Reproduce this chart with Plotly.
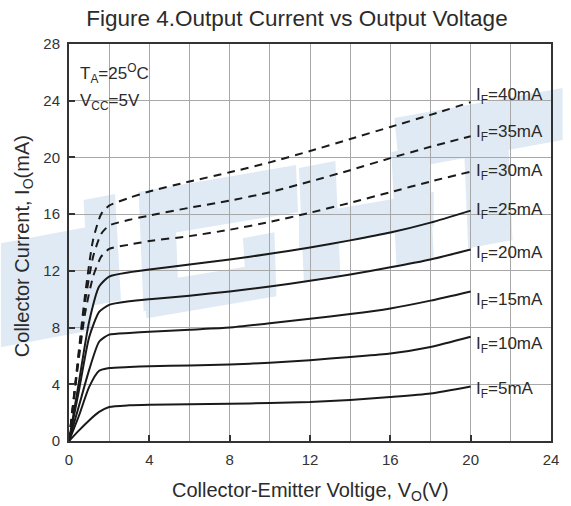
import plotly.graph_objects as go

# ---------------- data ----------------
v_solid = [0, 0.5, 1, 1.5, 2, 3, 4, 6, 8, 10, 12, 14, 16, 18, 20]
i_f5 = [0, 0.75, 1.45, 2.05, 2.4, 2.52, 2.56, 2.6, 2.63, 2.68, 2.75, 2.9, 3.1, 3.35, 3.85]
i_f10 = [0, 1.8, 3.8, 4.95, 5.15, 5.22, 5.27, 5.33, 5.4, 5.52, 5.7, 5.93, 6.17, 6.63, 7.35]
i_f15 = [0, 2.5, 5.0, 7.0, 7.5, 7.62, 7.7, 7.85, 8.0, 8.3, 8.62, 8.95, 9.35, 9.9, 10.55]
i_f20 = [0, 3.6, 7.3, 9.1, 9.6, 9.85, 10.0, 10.25, 10.55, 10.9, 11.3, 11.75, 12.25, 12.8, 13.5]
i_f25 = [0, 4.2, 8.4, 10.9, 11.6, 11.9, 12.1, 12.45, 12.8, 13.2, 13.65, 14.15, 14.7, 15.4, 16.25]

v_dash = [0, 0.4, 0.8, 1.2, 1.6, 2, 3, 4, 6, 8, 10, 12, 14, 16, 18, 20]
i_f30 = [0, 4.8, 9.0, 11.6, 13.0, 13.55, 13.85, 14.1, 14.45, 14.9, 15.45, 16.1, 16.8, 17.55, 18.3, 19.0]
i_f35 = [0, 5.0, 9.8, 13.0, 14.6, 15.2, 15.6, 15.9, 16.45, 16.95, 17.55, 18.3, 19.1, 19.95, 20.75, 21.5]
i_f40 = [0, 5.2, 10.3, 14.2, 16.0, 16.6, 17.15, 17.6, 18.3, 18.95, 19.65, 20.45, 21.3, 22.15, 23.0, 23.9]

series_labels = ["I<sub>F</sub>=5mA", "I<sub>F</sub>=10mA", "I<sub>F</sub>=15mA", "I<sub>F</sub>=20mA",
                 "I<sub>F</sub>=25mA", "I<sub>F</sub>=30mA", "I<sub>F</sub>=35mA", "I<sub>F</sub>=40mA"]
label_y = [3.6, 6.8, 9.9, 13.2, 16.2, 19.0, 21.7, 24.3]

x_ticks = [0, 4, 8, 12, 16, 20, 24]
y_ticks = [0, 4, 8, 12, 16, 20, 24, 28]

# ---------------- figure ----------------
LINE = "#1a1a1a"
TXT = "#2b2b2b"
FONT = "Liberation Sans, Arial, sans-serif"

fig = go.Figure()
for ys in [i_f5, i_f10, i_f15, i_f20, i_f25]:
    fig.add_trace(go.Scatter(x=v_solid, y=ys, mode="lines",
                             line=dict(color=LINE, width=2, shape="spline", smoothing=0.6),
                             showlegend=False, hoverinfo="skip"))
for ys in [i_f30, i_f35, i_f40]:
    fig.add_trace(go.Scatter(x=v_dash, y=ys, mode="lines",
                             line=dict(color=LINE, width=2, dash="8px,6px", shape="spline", smoothing=0.6),
                             showlegend=False, hoverinfo="skip"))

# curve labels
for txt, yy in zip(series_labels, label_y):
    fig.add_annotation(x=20.15, y=yy, xref="x", yref="y", text=txt, showarrow=False,
                       xanchor="left", yanchor="middle",
                       font=dict(family=FONT, size=17, color=TXT))

# conditions
fig.add_annotation(x=0.45, y=25.9, xref="x", yref="y", text="T<sub>A</sub>=25<sup>O</sup>C",
                   showarrow=False, xanchor="left", yanchor="middle",
                   font=dict(family=FONT, size=17, color=TXT))
fig.add_annotation(x=0.45, y=23.9, xref="x", yref="y", text="V<sub>CC</sub>=5V",
                   showarrow=False, xanchor="left", yanchor="middle",
                   font=dict(family=FONT, size=17, color=TXT))

# axis titles
fig.add_annotation(x=0.5, y=-0.128, xref="paper", yref="paper",
                   text="Collector-Emitter Voltige, V<sub>O</sub>(V)", showarrow=False,
                   xanchor="center", yanchor="middle",
                   font=dict(family=FONT, size=20, color=TXT))
fig.add_annotation(x=-0.094, y=0.49, xref="paper", yref="paper",
                   text="Collector Current, I<sub>O</sub>(mA)", showarrow=False, textangle=-90,
                   xanchor="center", yanchor="middle",
                   font=dict(family=FONT, size=20, color=TXT))

# watermark (light blue slanted letter blocks), pixel coords -> paper
L0, T0, PW, PH = 69.2, 44.0, 490.0, 396.7
def px(pts):
    s = ""
    for k, (a, b) in enumerate(pts):
        xp = (a - L0) / PW
        yp = (T0 + PH - b) / PH
        s += ("M" if k == 0 else "L") + f"{xp:.4f},{yp:.4f} "
    return s + "Z"

wm = [
    [(0, 243), (92, 226), (92, 330), (0, 347)],
    [(84, 200), (116, 194), (122, 300), (90, 306)],
    [(140, 192), (300, 165), (302, 212), (143, 238)],
    [(140, 192), (176, 186), (181, 305), (145, 311)],
    [(145, 283), (278, 262), (280, 296), (148, 318)],
    [(246, 238), (278, 232), (280, 292), (250, 297)],
    [(303, 168), (340, 161), (345, 275), (308, 282)],
    [(303, 215), (440, 192), (440, 226), (303, 250)],
    [(397, 152), (435, 145), (440, 258), (402, 265)],
    [(400, 118), (571, 88), (571, 140), (405, 170)],
    [(470, 130), (515, 122), (520, 240), (475, 248)],
]
for poly in wm:
    fig.add_shape(type="path", path=px(poly), xref="paper", yref="paper",
                  fillcolor="#dfeaf5", line=dict(width=0), layer="below")

axis_common = dict(showline=True, mirror=True, linecolor="#333333", linewidth=2,
                   ticks="inside", ticklen=6, tickwidth=1.5, tickcolor="#333333",
                   showgrid=True, gridcolor="#a8a8a8", gridwidth=1, zeroline=False,
                   tickfont=dict(family=FONT, size=15, color="#333333"))

fig.update_xaxes(range=[0, 24], tickmode="array", tickvals=x_ticks, ticklabelstandoff=4,
                 minor=dict(dtick=2, showgrid=True, gridcolor="#a8a8a8", gridwidth=1, ticklen=0),
                 **axis_common)
fig.update_yaxes(range=[0, 28], tickmode="array", tickvals=y_ticks, ticklabelstandoff=4,
                 **axis_common)

fig.update_layout(
    width=571, height=506,
    margin=dict(l=69, r=12, t=44, b=65),
    paper_bgcolor="white", plot_bgcolor="white",
    title=dict(text="Figure 4.Output Current vs Output Voltage", x=0.52, xanchor="center",
               y=0.965, yanchor="middle",
               font=dict(family=FONT, size=22.5, color=TXT)),
    showlegend=False,
)

fig.write_html("out.html", config={"displayModeBar": False},
               post_script="document.body.style.margin='0';document.body.style.padding='0';")
